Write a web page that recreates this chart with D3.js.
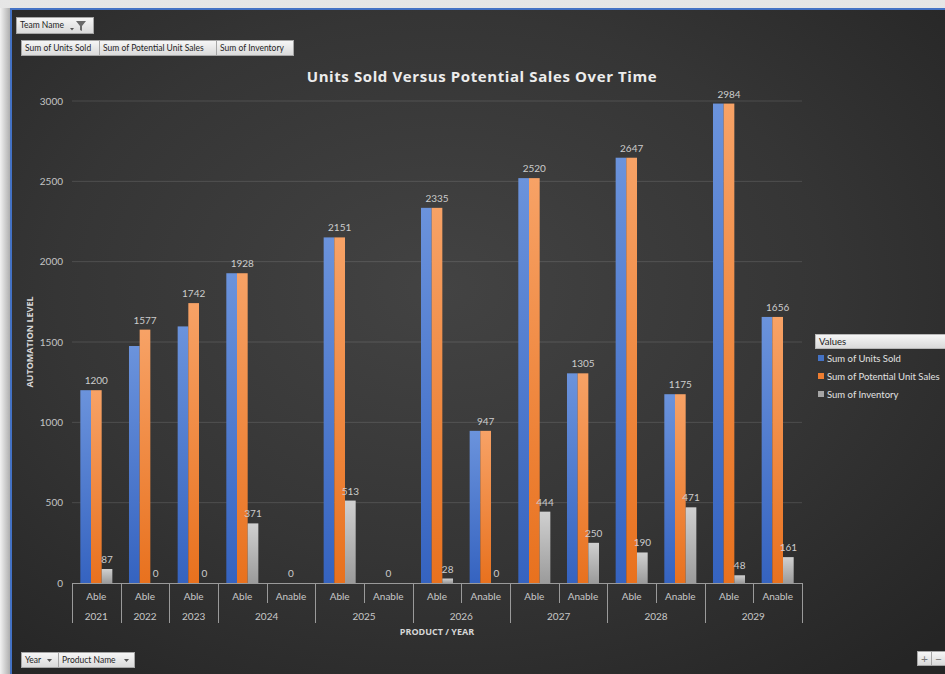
<!DOCTYPE html>
<html>
<head>
<meta charset="utf-8">
<script src="https://cdn.jsdelivr.net/npm/d3@7"></script>
<style>
  html, body { margin: 0; padding: 0; background: #d4d4d4; overflow: hidden; }
  svg { display: block; }
</style>
</head>
<body>
<svg id="chart" width="945" height="674"></svg>
<script>
// Pivot chart data: one entry per product / year pair
const products = ["Able", "Able", "Able", "Able", "Anable", "Able", "Anable", "Able", "Anable",
                  "Able", "Anable", "Able", "Anable", "Able", "Anable"];
const years = ["2021", "2022", "2023", "2024", "2024", "2025", "2025", "2026", "2026",
               "2027", "2027", "2028", "2028", "2029", "2029"];
const unitsSold = [1200, 1475, 1597, 1928, 0, 2151, 0, 2335, 947, 2520, 1305, 2647, 1175, 2984, 1656];
const potentialSales = [1200, 1577, 1742, 1928, 0, 2151, 0, 2335, 947, 2520, 1305, 2647, 1175, 2984, 1656];
const inventory = [87, 0, 0, 371, 0, 513, 0, 28, 0, 444, 250, 190, 471, 48, 161];
const yTicks = [0, 500, 1000, 1500, 2000, 2500, 3000];
const seriesNames = ["Sum of Units Sold", "Sum of Potential Unit Sales", "Sum of Inventory"];
const seriesColors = ["#4472c4", "#ed7d31", "#a5a5a5"];

const W = 945, H = 674;
const svg = d3.select("#chart");
const defs = svg.append("defs");

// Window frame and dark chart area
const frameGrad = defs.append("linearGradient").attr("id", "frame").attr("x1", 0).attr("y1", 0).attr("x2", 1).attr("y2", 0);
frameGrad.append("stop").attr("offset", "0%").attr("stop-color", "#f2f2f2");
frameGrad.append("stop").attr("offset", "100%").attr("stop-color", "#a8a8a8");
const frameGradTop = defs.append("linearGradient").attr("id", "frameTop").attr("x1", 0).attr("y1", 0).attr("x2", 0).attr("y2", 1);
frameGradTop.append("stop").attr("offset", "0%").attr("stop-color", "#e6e6e6");
frameGradTop.append("stop").attr("offset", "100%").attr("stop-color", "#b4b4b4");

const bg = defs.append("radialGradient").attr("id", "bg")
  .attr("cx", "0.46").attr("cy", "0.42").attr("r", "0.75");
bg.append("stop").attr("offset", "0%").attr("stop-color", "#434343");
bg.append("stop").attr("offset", "55%").attr("stop-color", "#353535");
bg.append("stop").attr("offset", "100%").attr("stop-color", "#252525");

svg.append("rect").attr("x", 0).attr("y", 0).attr("width", W).attr("height", H).attr("fill", "url(#frameTop)");
svg.append("rect").attr("x", 0).attr("y", 8).attr("width", 11).attr("height", H - 8).attr("fill", "url(#frame)");
svg.append("rect").attr("x", 10).attr("y", 8).attr("width", W - 10).attr("height", H - 8).attr("fill", "#4472c4");
svg.append("rect").attr("x", 12).attr("y", 10).attr("width", W - 12).attr("height", H - 10).attr("fill", "url(#bg)");

// Bar fills: vertical gradients, lighter towards the top
const barGrads = [
  ["#6b93dc", "#3563c0"],
  ["#f7a266", "#e8711e"],
  ["#d0d0d0", "#9b9b9b"]
];
barGrads.forEach((c, i) => {
  const g = defs.append("linearGradient").attr("id", "bar" + i).attr("x1", 0).attr("y1", 0).attr("x2", 0).attr("y2", 1);
  g.append("stop").attr("offset", "0%").attr("stop-color", c[0]);
  g.append("stop").attr("offset", "100%").attr("stop-color", c[1]);
});

// Button gradient used for the pivot field buttons
const btn = defs.append("linearGradient").attr("id", "btn").attr("x1", 0).attr("y1", 0).attr("x2", 0).attr("y2", 1);
btn.append("stop").attr("offset", "0%").attr("stop-color", "#f7f7f7");
btn.append("stop").attr("offset", "100%").attr("stop-color", "#d9d9d9");

const FONT = "Lato, 'Open Sans', sans-serif";

// Scales
const plot = { left: 72, right: 802, top: 101, bottom: 583 };
const idx = d3.range(products.length);
const x = d3.scaleBand().domain(idx).range([plot.left, plot.right]).paddingInner(0.342).paddingOuter(0.171);
const xs = d3.scaleBand().domain([0, 1, 2]).range([0, x.bandwidth()]);
const y = d3.scaleLinear().domain([0, 3000]).range([plot.bottom, plot.top]);

// Gridlines
svg.append("g").selectAll("line").data(yTicks.filter(t => t > 0)).join("line")
  .attr("x1", plot.left).attr("x2", plot.right)
  .attr("y1", d => y(d)).attr("y2", d => y(d))
  .attr("stroke", "#ffffff").attr("stroke-opacity", 0.13).attr("stroke-width", 1);

// Y axis labels
const yAxis = d3.axisLeft(y).tickValues(yTicks).tickFormat(d3.format("d")).tickSize(0).tickPadding(9);
const yg = svg.append("g").attr("transform", `translate(${plot.left},0)`).call(yAxis);
yg.select(".domain").remove();
yg.selectAll("text").attr("fill", "#c4c4c4").style("font-family", FONT).style("font-size", "10px");

// Bars
const series = [unitsSold, potentialSales, inventory];
const barsG = svg.append("g");
series.forEach((vals, s) => {
  barsG.append("g").selectAll("rect").data(idx).join("rect")
    .attr("x", i => x(i) + xs(s))
    .attr("width", xs.bandwidth())
    .attr("y", i => y(vals[i]))
    .attr("height", i => plot.bottom - y(vals[i]))
    .attr("fill", `url(#bar${s})`);
});

// Data labels for potential sales and inventory, skipping any that collide
const placed = [];
const labelsG = svg.append("g");
idx.forEach(i => {
  [1, 2].forEach(s => {
    const v = series[s][i];
    const cx = x(i) + xs(s) + xs.bandwidth() / 2;
    const by = y(v) - 6;
    const w = String(v).length * 5.6 + 10;
    const box = { x0: cx - w / 2, x1: cx + w / 2, y0: by - 10, y1: by + 2 };
    const hit = placed.some(b => b.x0 < box.x1 && box.x0 < b.x1 && b.y0 < box.y1 && box.y0 < b.y1);
    if (hit) return;
    placed.push(box);
    labelsG.append("text").attr("x", cx).attr("y", by)
      .attr("text-anchor", "middle").attr("fill", "#cccccc")
      .style("font-family", FONT).style("font-size", "10px").text(v);
  });
});

// X axis: baseline, category separators and two label rows
const axisG = svg.append("g").attr("stroke", "#9a9a9a").attr("stroke-width", 1);
axisG.append("line").attr("x1", plot.left).attr("x2", plot.right).attr("y1", plot.bottom + 0.5).attr("y2", plot.bottom + 0.5);
const step = x.step();
const boundaries = d3.range(products.length + 1).map(k => plot.left + k * step);
boundaries.forEach((bx, k) => {
  const isYearEdge = k === 0 || k === products.length || years[k] !== years[k - 1];
  axisG.append("line").attr("x1", Math.round(bx) + 0.5).attr("x2", Math.round(bx) + 0.5)
    .attr("y1", plot.bottom).attr("y2", isYearEdge ? 623 : 603);
});

svg.append("g").selectAll("text").data(idx).join("text")
  .attr("x", i => x(i) + x.bandwidth() / 2).attr("y", 600)
  .attr("text-anchor", "middle").attr("fill", "#c8c8c8")
  .style("font-family", FONT).style("font-size", "10px")
  .text(i => products[i]);

const yearGroups = d3.groups(idx, i => years[i]);
svg.append("g").selectAll("text").data(yearGroups).join("text")
  .attr("x", d => (boundaries[d[1][0]] + boundaries[d[1][d[1].length - 1] + 1]) / 2)
  .attr("y", 620)
  .attr("text-anchor", "middle").attr("fill", "#c8c8c8")
  .style("font-family", FONT).style("font-size", "10px")
  .text(d => d[0]);

// Axis titles and chart title
svg.append("text").attr("x", (plot.left + plot.right) / 2).attr("y", 635)
  .attr("text-anchor", "middle").attr("fill", "#d6d6d6")
  .style("font-family", "'Open Sans', sans-serif").style("font-weight", 700).style("font-size", "9px")
  .text("PRODUCT / YEAR");

svg.append("text")
  .attr("transform", `translate(33,${(plot.top + plot.bottom) / 2}) rotate(-90)`)
  .attr("text-anchor", "middle").attr("fill", "#d6d6d6")
  .style("font-family", "'Open Sans', sans-serif").style("font-weight", 700).style("font-size", "9px")
  .text("AUTOMATION LEVEL");

svg.append("text").attr("x", 482).attr("y", 82)
  .attr("text-anchor", "middle").attr("fill", "#ececec")
  .style("font-family", "'Open Sans', sans-serif").style("font-weight", 700).style("font-size", "15px")
  .style("letter-spacing", "0.6px")
  .text("Units Sold Versus Potential Sales Over Time");

// Legend
const lg = svg.append("g");
lg.append("rect").attr("x", 815.5).attr("y", 334.5).attr("width", 135).attr("height", 14)
  .attr("fill", "url(#btn)").attr("stroke", "#b8b8b8");
lg.append("text").attr("x", 819).attr("y", 345).attr("fill", "#222")
  .style("font-family", FONT).style("font-size", "9.5px").text("Values");
seriesNames.forEach((name, s) => {
  const yy = 358 + s * 18;
  lg.append("rect").attr("x", 818).attr("y", yy - 3).attr("width", 6).attr("height", 6).attr("fill", seriesColors[s]);
  lg.append("text").attr("x", 827).attr("y", yy + 3.5).attr("fill", "#e2e2e2")
    .style("font-family", FONT).style("font-size", "9.5px").text(name);
});

// Pivot field buttons
function button(x0, y0, w, h, label, extra) {
  const g = svg.append("g");
  g.append("rect").attr("x", x0 + 0.5).attr("y", y0 + 0.5).attr("width", w).attr("height", h)
    .attr("fill", "url(#btn)").attr("stroke", "#a6a6a6");
  g.append("text").attr("x", x0 + 4).attr("y", y0 + h / 2 + 3.2).attr("fill", "#1e1e1e")
    .style("font-family", FONT).style("font-size", "8.5px").text(label);
  if (extra) extra(g);
  return g;
}

button(16, 17, 77, 16, "Team Name", g => {
  g.append("path").attr("d", "M70,28h4l-2,2.5z").attr("fill", "#555");
  g.append("path").attr("d", "M76,21h10l-4,5v5l-2,-1v-4z").attr("fill", "#6a6a6a");
});
button(21, 40, 78, 15, "Sum of Units Sold");
button(99, 40, 117, 15, "Sum of Potential Unit Sales");
button(216, 40, 77, 15, "Sum of Inventory");

button(21, 652, 37, 15, "Year", g => {
  g.append("path").attr("d", "M47,659h5l-2.5,3z").attr("fill", "#555");
});
button(58, 652, 76, 15, "Product Name", g => {
  g.append("path").attr("d", "M124,659h5l-2.5,3z").attr("fill", "#555");
});

// Zoom buttons in the bottom right corner
const zb = svg.append("g");
zb.append("rect").attr("x", 917.5).attr("y", 651.5).attr("width", 14).attr("height", 14).attr("fill", "url(#btn)").attr("stroke", "#a6a6a6");
zb.append("rect").attr("x", 931.5).attr("y", 651.5).attr("width", 14).attr("height", 14).attr("fill", "url(#btn)").attr("stroke", "#a6a6a6");
zb.append("text").attr("x", 924.5).attr("y", 662.5).attr("text-anchor", "middle").attr("fill", "#777")
  .style("font-family", FONT).style("font-size", "12px").text("+");
zb.append("text").attr("x", 938.5).attr("y", 662.5).attr("text-anchor", "middle").attr("fill", "#777")
  .style("font-family", FONT).style("font-size", "12px").text("−");
</script>
</body>
</html>
